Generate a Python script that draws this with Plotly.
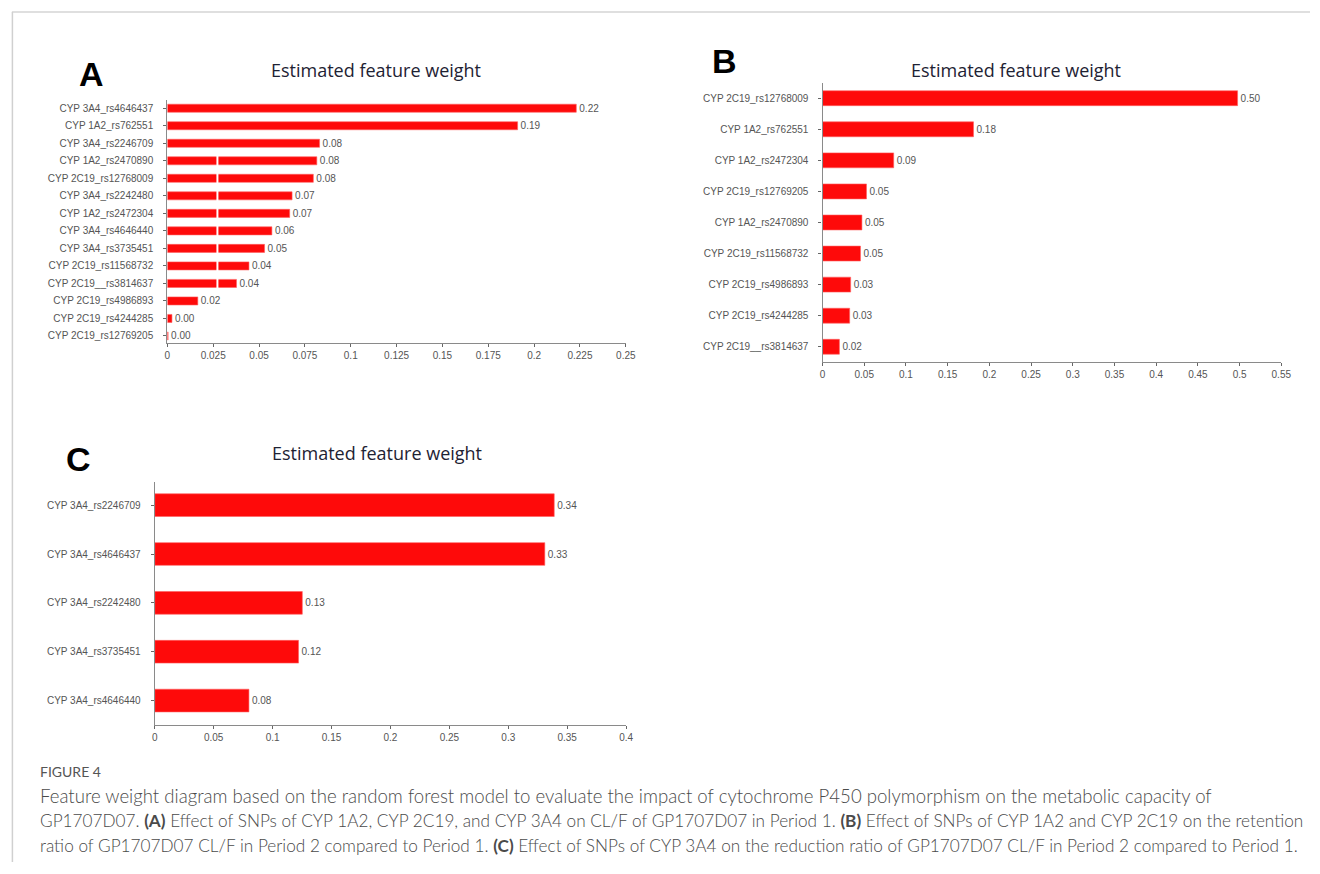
import plotly.graph_objects as go

W, H = 1320, 874

# ---------------- data ----------------
a_features = ["CYP 3A4_rs4646437", "CYP 1A2_rs762551", "CYP 3A4_rs2246709", "CYP 1A2_rs2470890",
              "CYP 2C19_rs12768009", "CYP 3A4_rs2242480", "CYP 1A2_rs2472304", "CYP 3A4_rs4646440",
              "CYP 3A4_rs3735451", "CYP 2C19_rs11568732", "CYP 2C19__rs3814637", "CYP 2C19_rs4986893",
              "CYP 2C19_rs4244285", "CYP 2C19_rs12769205"]
a_weights = [0.223, 0.191, 0.083, 0.0815, 0.0796, 0.068, 0.0667, 0.057, 0.053, 0.0445, 0.0377,
             0.0166, 0.0025, 0.0004]
a_ticks = [0, 0.025, 0.05, 0.075, 0.1, 0.125, 0.15, 0.175, 0.2, 0.225, 0.25]
a_ticktext = ["0", "0.025", "0.05", "0.075", "0.1", "0.125", "0.15", "0.175", "0.2", "0.225", "0.25"]

b_features = ["CYP 2C19_rs12768009", "CYP 1A2_rs762551", "CYP 1A2_rs2472304", "CYP 2C19_rs12769205",
              "CYP 1A2_rs2470890", "CYP 2C19_rs11568732", "CYP 2C19_rs4986893", "CYP 2C19_rs4244285",
              "CYP 2C19__rs3814637"]
b_weights = [0.4976, 0.181, 0.0853, 0.0527, 0.0472, 0.0455, 0.0337, 0.0325, 0.0202]
b_ticks = [0, 0.05, 0.1, 0.15, 0.2, 0.25, 0.3, 0.35, 0.4, 0.45, 0.5, 0.55]
b_ticktext = ["0", "0.05", "0.1", "0.15", "0.2", "0.25", "0.3", "0.35", "0.4", "0.45", "0.5", "0.55"]

c_features = ["CYP 3A4_rs2246709", "CYP 3A4_rs4646437", "CYP 3A4_rs2242480", "CYP 3A4_rs3735451",
              "CYP 3A4_rs4646440"]
c_weights = [0.339, 0.331, 0.1252, 0.122, 0.0799]
c_ticks = [0, 0.05, 0.1, 0.15, 0.2, 0.25, 0.3, 0.35, 0.4]
c_ticktext = ["0", "0.05", "0.1", "0.15", "0.2", "0.25", "0.3", "0.35", "0.4"]

panel_title = "Estimated feature weight"
caption_head = "FIGURE 4"
caption_lines = [
    "Feature weight diagram based on the random forest model to evaluate the impact of cytochrome P450 polymorphism on the metabolic capacity of",
    "GP1707D07. <b>(A)</b> Effect of SNPs of CYP 1A2, CYP 2C19, and CYP 3A4 on CL/F of GP1707D07 in Period 1. <b>(B)</b> Effect of SNPs of CYP 1A2 and CYP 2C19 on the retention",
    "ratio of GP1707D07 CL/F in Period 2 compared to Period 1. <b>(C)</b> Effect of SNPs of CYP 3A4 on the reduction ratio of GP1707D07 CL/F in Period 2 compared to Period 1.",
]

# ---------------- helpers ----------------
def px_x(p):
    return p / W

def px_y(p):
    return 1 - p / H

RED = "#fe0a0a"
TICKFONT = dict(family="Liberation Sans, Arial, sans-serif", size=10, color="#555555")
AXCOL = "#8a8a8a"

fig = go.Figure()

panels = [
    (a_features, a_weights, "x", "y", (166, 629), (343, 100), [0, 0.25], [13.4, -0.47], a_ticks, a_ticktext, 0.46),
    (b_features, b_weights, "x2", "y2", (827.7, 1291), (362.3, 83.3), [0, 0.55], [8.5, -0.48], b_ticks, b_ticktext, 0.48),
    (c_features, c_weights, "x3", "y3", (153.3, 629.3), (725, 481.7), [0, 0.4], [4.5, -0.48], c_ticks, c_ticktext, 0.465),
]

layout_axes = {}
for i, (feats, wts, xa, ya, xd, yd, xr, yr, tv, tt, bw) in enumerate(panels):
    fig.add_trace(go.Bar(
        x=wts, y=feats, orientation="h", xaxis=xa, yaxis=ya,
        marker=dict(color=RED, line=dict(color="#ff6060", width=0.6)),
        width=bw,
        text=[f"{v:.2f}" for v in wts], textposition="outside", constraintext="none",
        textfont=dict(family="Liberation Sans, Arial, sans-serif", size=10, color="#555555"),
        cliponaxis=False, showlegend=False, hoverinfo="skip",
    ))
    xname = "xaxis" if i == 0 else f"xaxis{i+1}"
    yname = "yaxis" if i == 0 else f"yaxis{i+1}"
    layout_axes[xname] = dict(
        domain=[px_x(xd[0]), px_x(xd[1])], range=xr, anchor=ya,
        tickvals=tv, ticktext=tt, ticks="outside", ticklen=3, tickcolor="#666666",
        showline=True, linecolor=AXCOL, linewidth=1.2, showgrid=False, zeroline=False,
        tickfont=TICKFONT, fixedrange=True,
    )
    layout_axes[yname] = dict(
        domain=[px_y(yd[0]), px_y(yd[1])], range=yr, anchor=xa, type="category",
        categoryorder="array", categoryarray=feats,
        ticks="outside", ticklen=3, tickcolor="#666666", ticklabelstandoff=8,
        showline=True, linecolor=AXCOL, linewidth=1.2, showgrid=False, zeroline=False,
        tickfont=TICKFONT, fixedrange=True,
    )

fig.update_layout(**layout_axes)

annotations = []
for cx, cy in [(376.5, 70), (1023.5, 70), (378, 453)]:
    annotations.append(dict(text=panel_title, x=px_x(cx), y=px_y(cy), xref="paper", yref="paper",
                            xanchor="center", yanchor="middle", showarrow=False,
                            font=dict(family="Open Sans, sans-serif", size=18, color="#1e2233")))
for letter, cx, cy in [("A", 89, 74.5), ("B", 729, 61), ("C", 76, 458.5)]:
    annotations.append(dict(text=f"<b>{letter}</b>", x=px_x(cx), y=px_y(cy), xref="paper", yref="paper",
                            xanchor="center", yanchor="middle", showarrow=False,
                            font=dict(family="Liberation Sans, Arial, sans-serif", size=34, color="#000000")))
annotations.append(dict(text=caption_head, x=px_x(36), y=px_y(771), xref="paper", yref="paper",
                        xanchor="left", yanchor="middle", showarrow=False, borderpad=0,
                        font=dict(family="Lato, sans-serif", size=14, color="#555555")))
caption_sizes = [18.6, 17.2, 17.2]
for k, line in enumerate(caption_lines):
    annotations.append(dict(text=line, x=px_x(36), y=px_y(796 + 24.5 * k), xref="paper", yref="paper",
                            xanchor="left", yanchor="middle", showarrow=False, borderpad=0,
                            font=dict(family="Lato, sans-serif", size=caption_sizes[k], weight=300,
                                      color="#4a4a4a")))

shapes = [
    dict(type="line", xref="paper", yref="paper", x0=px_x(9), x1=1, y0=px_y(12), y1=px_y(12),
         line=dict(color="#d4d4d4", width=1.5)),
    dict(type="line", xref="paper", yref="paper", x0=px_x(9.5), x1=px_x(9.5), y0=px_y(12), y1=px_y(862),
         line=dict(color="#d0d0d0", width=1.5)),
    dict(type="line", xref="x", yref="y", x0=0.0273, x1=0.0273, y0=2.72, y1=10.28,
         line=dict(color="#ffffff", width=2)),
]

fig.update_layout(
    width=W, height=H, margin=dict(l=0, r=0, t=0, b=0),
    paper_bgcolor="#ffffff", plot_bgcolor="#ffffff",
    annotations=annotations, shapes=shapes, bargap=0.5,
)

fig.write_html("out.html")
